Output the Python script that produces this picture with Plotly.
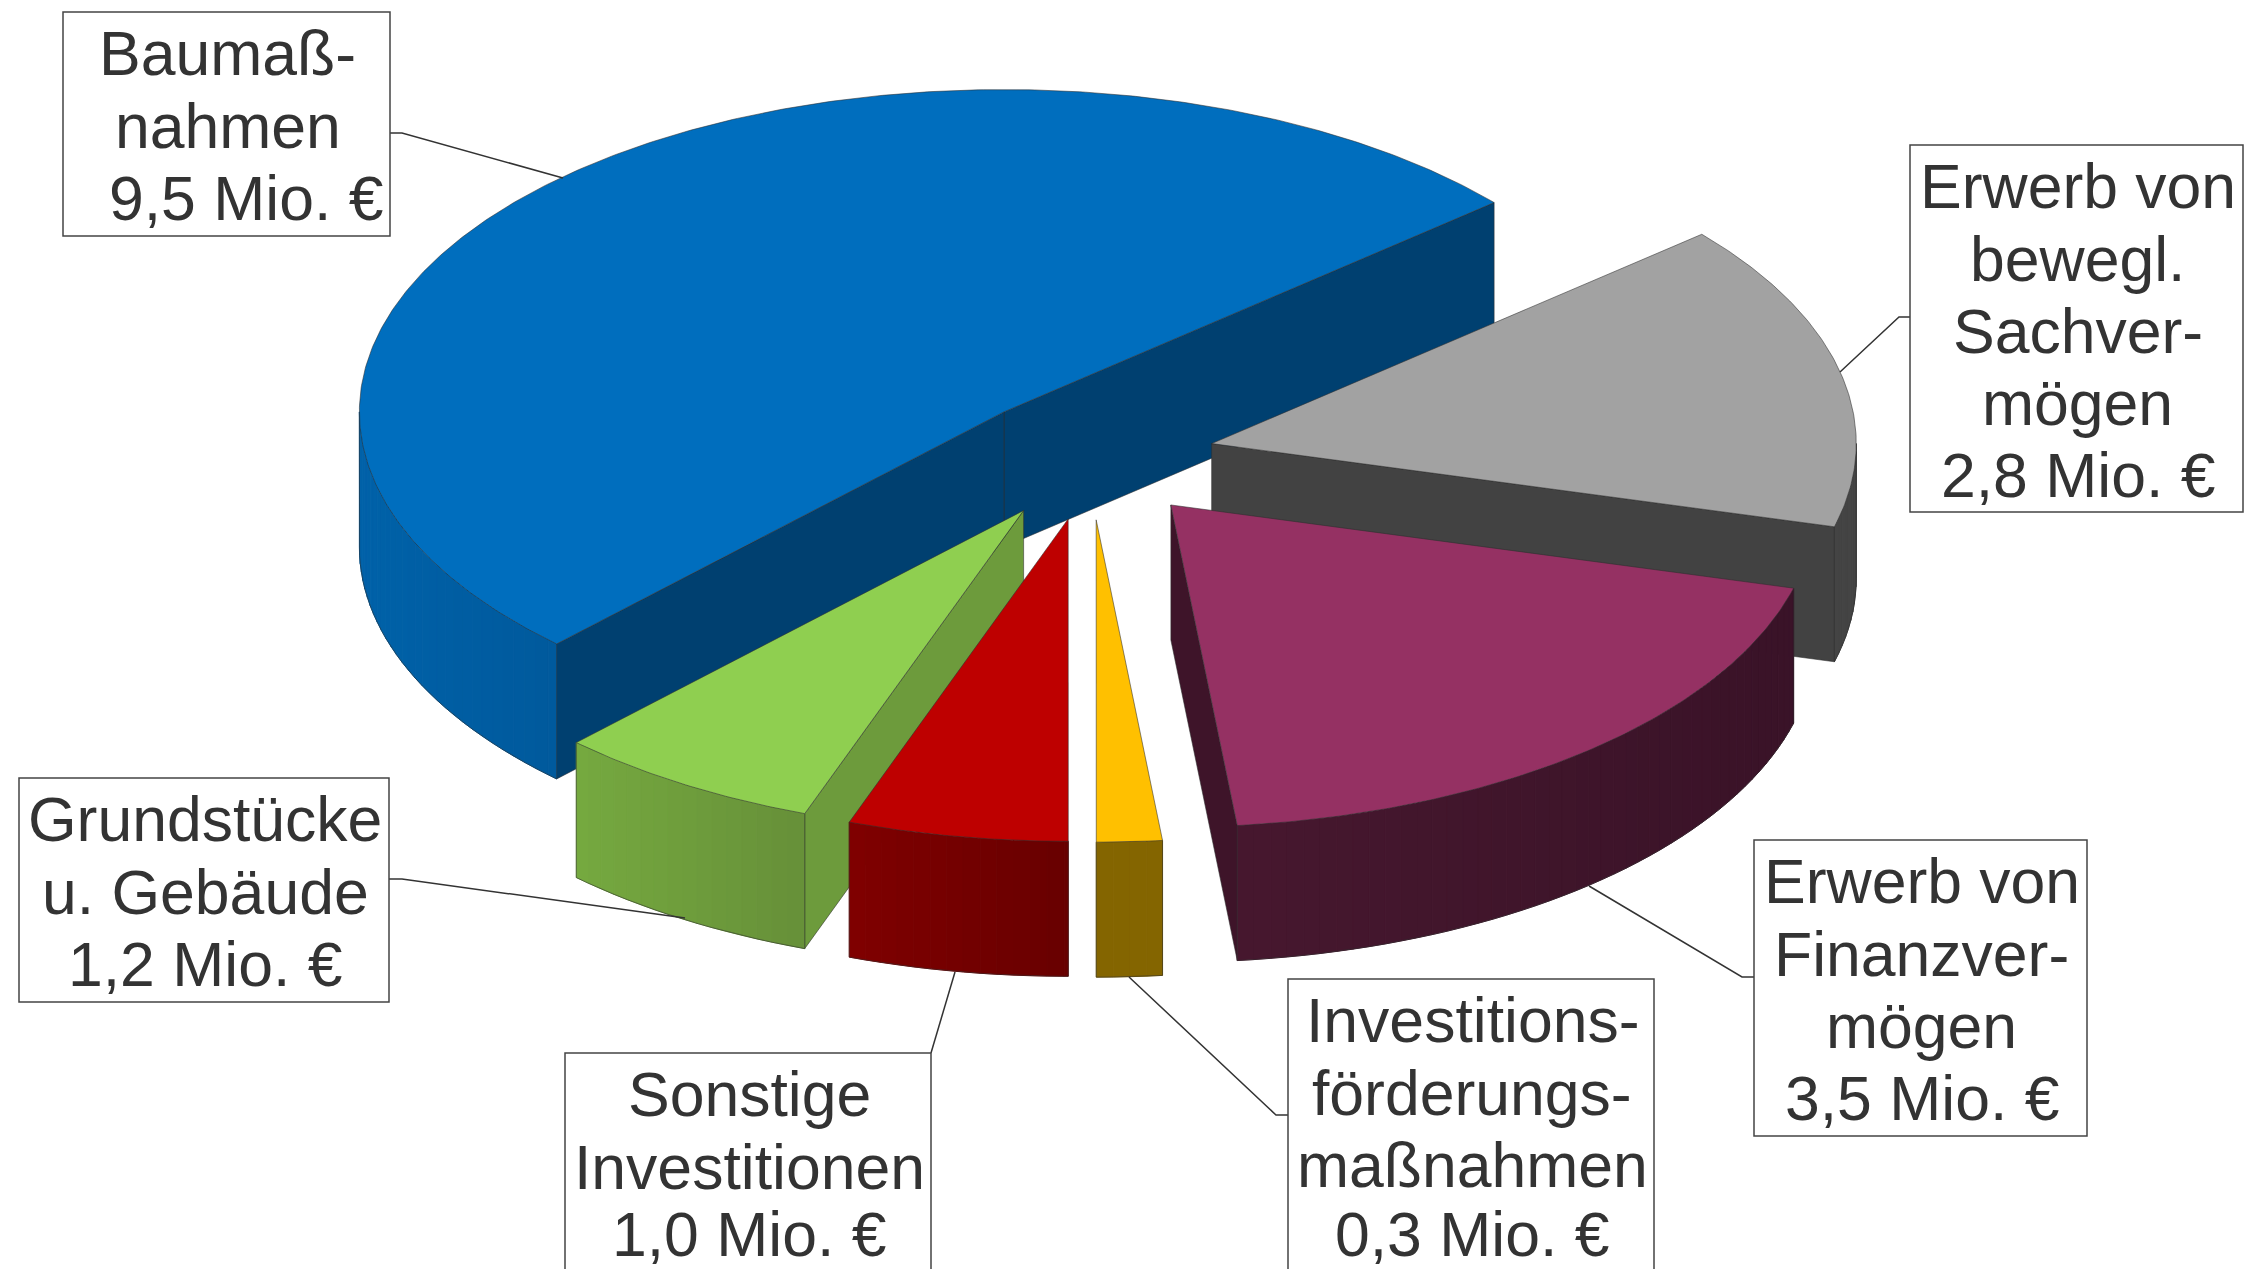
import numpy as np
import plotly.graph_objects as go

# ---------- data ----------
categories = ["Erwerb von bewegl. Sachvermögen", "Erwerb von Finanzvermögen",
              "Investitionsförderungsmaßnahmen", "Sonstige Investitionen",
              "Grundstücke u. Gebäude", "Baumaßnahmen"]
# slice sizes as drawn in the picture (Mio. €)
values = [2.82, 3.515, 0.30, 1.01, 1.225, 9.435]
top_colors = ["#A2A2A2", "#953163", "#FFC000", "#BE0000", "#8FCF50", "#006EBE"]
face_colors = ["#424242", "#3E1429", "#846500", "#7A0000", "#6D9B3C", "#004070"]
wall_left = ["#444444", "#47182F", "#846500", "#800000", "#76AA40", "#0062A9"]
wall_right = ["#444444", "#3A1328", "#846500", "#680000", "#679039", "#005A9D"]
draw_order = [5, 0, 4, 3, 2, 1]

label_lines = [
    ["Erwerb von", "bewegl.", "Sachver-", "mögen", "2,8 Mio. €"],
    ["Erwerb von", "Finanzver-", "mögen", "3,5 Mio. €"],
    ["Investitions-", "förderungs-", "maßnahmen", "0,3 Mio. €"],
    ["Sonstige", "Investitionen", "1,0 Mio. €"],
    ["Grundstücke", "u. Gebäude", "1,2 Mio. €"],
    ["Baumaß-", "nahmen", "9,5 Mio. €"],
]
label_boxes = [(1910, 145, 2243, 512), (1754, 840, 2087, 1136), (1288, 979, 1654, 1295),
               (565, 1053, 931, 1295), (19, 778, 389, 1002), (63, 12, 390, 236)]
leaders = [
    ([1910, 1899, 1840], [317, 317, 372]),
    ([1754, 1742, 1589], [977, 977, 886]),
    ([1288, 1276, 1129], [1115, 1115, 977]),
    ([931, 955], [1053, 972]),
    ([389, 402, 685], [879, 879, 918]),
    ([390, 402, 563], [133, 133, 178]),
]

# ---------- projection of the tilted pie ----------
W, H = 2266, 1269
CX, CY = 1089.7, 457.4
RX, RY = 644.6, 322.3
DEPTH = 135
EXPLODE = 0.194
START = 40.5
EDGE = "rgba(45,45,45,0.55)"
TEXT = "#333333"

fig = go.Figure()


def poly(xs, ys, fill, line=None, width=1):
    fig.add_trace(go.Scatter(x=list(xs) + [xs[0]], y=list(ys) + [ys[0]], mode="lines",
                             fill="toself", fillcolor=fill,
                             line=dict(color=line or fill, width=width),
                             hoverinfo="skip", showlegend=False))


def rgb(h):
    return np.array([int(h[i:i + 2], 16) for i in (1, 3, 5)], float)


def mix(a, b, t):
    c = rgb(a) * (1 - t) + rgb(b) * t
    return "rgb(%d,%d,%d)" % tuple(c)


sweep = np.array(values) / sum(values) * 360
ends_ccw = START - np.concatenate([[0], np.cumsum(sweep)[:-1]])
ends_cw = ends_ccw - sweep
# the last slice wraps round behind the pie; keep it in positive degrees
ends_ccw[5] += 360
ends_cw[5] += 360

for i in draw_order:
    a1, a2 = ends_ccw[i], ends_cw[i]
    mid = np.radians((a1 + a2) / 2)
    ax = CX + EXPLODE * RX * np.cos(mid)
    ay = CY - EXPLODE * RY * np.sin(mid)

    def rim(d):
        r = np.radians(d)
        return ax + RX * np.cos(r), ay - RY * np.sin(r)

    # cut faces that turn towards the viewer
    for d, visible in ((a2, np.cos(np.radians(a2)) > 0.02), (a1, np.cos(np.radians(a1)) < -0.02)):
        if visible:
            px, py = rim(d)
            poly([ax, px, px, ax], [ay, py, py + DEPTH, ay + DEPTH], face_colors[i], EDGE)

    # outer wall, in narrow bands so that the shading runs across it
    samples = np.arange(a2, a1, 1.5).tolist() + [a1]
    samples += [k * 180.0 for k in range(-2, 3) if a2 < k * 180 < a1]
    samples = sorted(samples)
    vis = [(s, t) for s, t in zip(samples[:-1], samples[1:])
           if np.sin(np.radians((s + t) / 2)) < 0]
    if vis:
        xall = [rim(s)[0] for pair in vis for s in pair]
        xmin, xmax = min(xall), max(xall)
        for s, t in vis:
            xa, ya = rim(s)
            xb, yb = rim(t)
            f = ((xa + xb) / 2 - xmin) / max(xmax - xmin, 1)
            poly([xa, xb, xb, xa], [ya, yb, yb + DEPTH, ya + DEPTH],
                 mix(wall_left[i], wall_right[i], f))
        arc = sorted({d for pair in vis for d in pair})
        ox = [rim(d)[0] for d in arc]
        oy = [rim(d)[1] + DEPTH for d in arc]
        fig.add_trace(go.Scatter(x=[ox[0]] + ox + [ox[-1]],
                                 y=[oy[0] - DEPTH] + oy + [oy[-1] - DEPTH], mode="lines",
                                 line=dict(color=EDGE, width=1), hoverinfo="skip", showlegend=False))

    # top face
    ds = np.linspace(a2, a1, max(int(a1 - a2) * 2, 8))
    tx = [ax] + [rim(d)[0] for d in ds]
    ty = [ay] + [rim(d)[1] for d in ds]
    poly(tx, ty, top_colors[i], EDGE)

# leader lines
for lx, ly in leaders:
    fig.add_trace(go.Scatter(x=lx, y=ly, mode="lines", line=dict(color="#333333", width=1.5),
                             hoverinfo="skip", showlegend=False))

# label boxes and their text
shapes, annotations = [], []
LINE_STEP = 72.2
for i, (x0, y0, x1, y1) in enumerate(label_boxes):
    shapes.append(dict(type="rect", xref="x", yref="y", x0=x0, y0=y0, x1=x1, y1=y1,
                       fillcolor="white", line=dict(color="#444444", width=1.5)))
    for j, text in enumerate(label_lines[i]):
        baseline = min(y0 + 63 + j * LINE_STEP, 1255.5)
        xc = (x0 + x1) / 2 + 1
        if categories[i] == "Baumaßnahmen" and j == 2:
            xc += 18
        annotations.append(dict(x=xc, y=baseline - 21.7, xref="x", yref="y", text=text,
                                showarrow=False, xanchor="center", yanchor="middle",
                                font=dict(family="Liberation Sans, Arial, sans-serif",
                                          size=62.5, color=TEXT)))

fig.update_layout(width=W, height=H, margin=dict(l=0, r=0, t=0, b=0),
                  paper_bgcolor="white", plot_bgcolor="white", showlegend=False,
                  xaxis=dict(range=[0, W], visible=False, fixedrange=True),
                  yaxis=dict(range=[H, 0], visible=False, fixedrange=True),
                  shapes=shapes, annotations=annotations)

fig.write_html("out.html", config=dict(displayModeBar=False),
               post_script="document.body.style.margin='0';")
